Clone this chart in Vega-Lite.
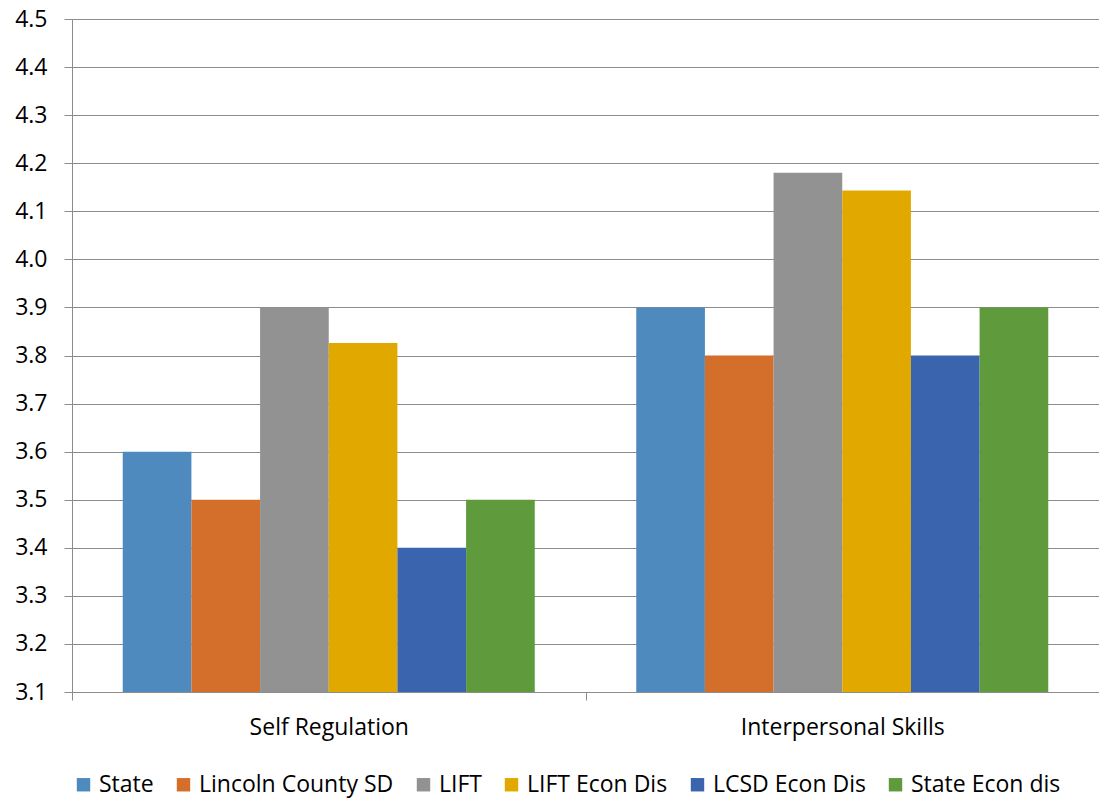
{
  "$schema": "https://vega.github.io/schema/vega-lite/v6.json",
  "width": 1027,
  "height": 673,
  "autosize": {"type": "none"},
  "padding": {"left": 72, "top": 19, "right": 0, "bottom": 107},
  "background": "#ffffff",
  "config": {
    "font": "Open Sans",
    "view": {"stroke": null},
    "axis": {"labelFont": "Open Sans", "labelFontSize": 23, "labelColor": "#000000", "labelLimit": 0}
  },
  "data": {
    "values": [
      {"group": "Self Regulation", "series": "State", "value": 3.6},
      {"group": "Self Regulation", "series": "Lincoln County SD", "value": 3.5},
      {"group": "Self Regulation", "series": "LIFT", "value": 3.9},
      {"group": "Self Regulation", "series": "LIFT Econ Dis", "value": 3.826},
      {"group": "Self Regulation", "series": "LCSD Econ Dis", "value": 3.4},
      {"group": "Self Regulation", "series": "State Econ dis", "value": 3.5},
      {"group": "Interpersonal Skills", "series": "State", "value": 3.9},
      {"group": "Interpersonal Skills", "series": "Lincoln County SD", "value": 3.8},
      {"group": "Interpersonal Skills", "series": "LIFT", "value": 4.18},
      {"group": "Interpersonal Skills", "series": "LIFT Econ Dis", "value": 4.143},
      {"group": "Interpersonal Skills", "series": "LCSD Econ Dis", "value": 3.8},
      {"group": "Interpersonal Skills", "series": "State Econ dis", "value": 3.9}
    ]
  },
  "mark": {"type": "bar", "clip": true},
  "encoding": {
    "x": {
      "field": "group",
      "type": "nominal",
      "sort": ["Self Regulation", "Interpersonal Skills"],
      "scale": {"paddingInner": 0, "paddingOuter": 0},
      "axis": {
        "title": null,
        "labelAngle": 0,
        "labelLimit": 0,
        "tickBand": "extent",
        "tickSize": 8,
        "tickColor": "#8c8c8c",
        "domainColor": "#8c8c8c",
        "labelPadding": 16,
        "grid": false
      }
    },
    "xOffset": {
      "field": "series",
      "type": "nominal",
      "sort": ["State", "Lincoln County SD", "LIFT", "LIFT Econ Dis", "LCSD Econ Dis", "State Econ dis"],
      "scale": {"paddingInner": 0, "paddingOuter": 0.739}
    },
    "y": {
      "field": "value",
      "type": "quantitative",
      "scale": {"domain": [3.1, 4.5], "zero": false, "nice": false},
      "axis": {
        "title": null,
        "values": [3.1, 3.2, 3.3, 3.4, 3.5, 3.6, 3.7, 3.8, 3.9, 4.0, 4.1, 4.2, 4.3, 4.4, 4.5],
        "format": ".1f",
        "tickSize": 8,
        "tickColor": "#8c8c8c",
        "domainColor": "#8c8c8c",
        "gridColor": "#8c8c8c",
        "gridOpacity": 1,
        "labelPadding": 17
      }
    },
    "color": {
      "field": "series",
      "type": "nominal",
      "scale": {
        "domain": ["State", "Lincoln County SD", "LIFT", "LIFT Econ Dis", "LCSD Econ Dis", "State Econ dis"],
        "range": ["#4e8abe", "#d46e2b", "#929292", "#e1a900", "#3a64ad", "#5f9a3d"]
      },
      "legend": {
        "title": null,
        "orient": "bottom",
        "direction": "horizontal",
        "columns": 6,
        "symbolType": "square",
        "symbolSize": 180,
        "symbolStrokeWidth": 0,
        "labelFont": "Open Sans",
        "labelFontSize": 23,
        "labelColor": "#000000",
        "labelLimit": 0,
        "labelOffset": 4,
        "columnPadding": 18,
        "offset": 34
      }
    }
  }
}
